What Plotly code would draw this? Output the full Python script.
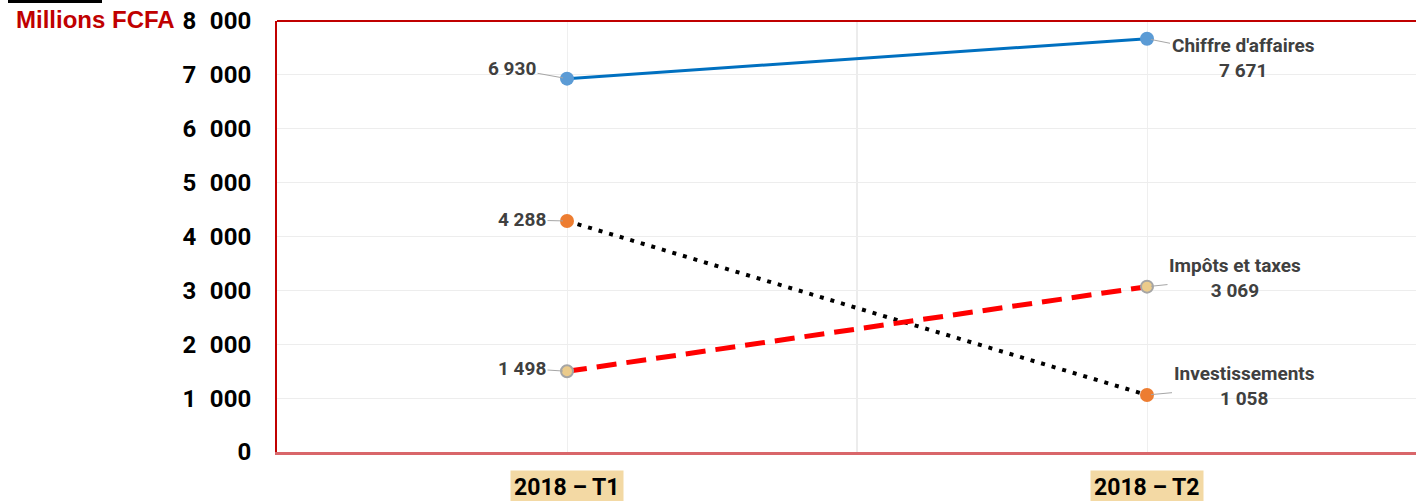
import plotly.graph_objects as go

categories = ["2018 – T1", "2018 – T2"]
ca_values = [6930, 7671]
impots_values = [1498, 3069]
invest_values = [4288, 1058]
series_names = ["Chiffre d'affaires", "Impôts et taxes", "Investissements"]
y_ticks = [0, 1000, 2000, 3000, 4000, 5000, 6000, 7000, 8000]
y_ticktext = ["0", "1\u2007000", "2\u2007000", "3\u2007000", "4\u2007000",
              "5\u2007000", "6\u2007000", "7\u2007000", "8\u2007000"]


def fmt(v):
    return f"{v:,}".replace(",", " ")


NARROW = "Roboto"
W, H = 1416, 501
L, T, B = 277, 21, 49
PW, PH = W - L, H - T - B

fig = go.Figure()

fig.add_trace(go.Scatter(
    x=categories, y=ca_values, name=series_names[0], mode="lines+markers",
    line=dict(color="#0070C0", width=3),
    marker=dict(color="#5B9BD5", size=14, line=dict(width=0)),
))
fig.add_trace(go.Scatter(
    x=categories, y=invest_values, name=series_names[2], mode="lines+markers",
    line=dict(color="#000000", width=4, dash="4px,7px"),
    marker=dict(color="#ED7D31", size=14, line=dict(width=0)),
))
fig.add_trace(go.Scatter(
    x=categories, y=impots_values, name=series_names[1], mode="lines+markers",
    line=dict(color="#FF0000", width=5, dash="20px,10px"),
    marker=dict(color="#EBCB8B", size=12, line=dict(color="#A5A5A5", width=2)),
))

ann = []
label_font = dict(family=NARROW, size=19, color="#404040", weight="bold")
# left labels (T1)
left_offsets = [(-55, -10), (-45, -3), (-45, -1)]
for vals, (ax, ay) in zip([ca_values, impots_values, invest_values], left_offsets):
    ann.append(dict(x=categories[0], y=vals[0], xref="x", yref="y",
                    text=fmt(vals[0]), font=label_font,
                    showarrow=True, arrowhead=0, arrowwidth=1, arrowcolor="#A6A6A6",
                    ax=ax, ay=ay, standoff=4))
# right labels (T2)
right_offsets = [(96, 19), (88, -9), (97, -9)]
for name, vals, (ax, ay) in zip(series_names, [ca_values, impots_values, invest_values], right_offsets):
    ann.append(dict(x=categories[1], y=vals[1], xref="x", yref="y",
                    text=name + "<br>" + fmt(vals[1]), font=label_font,
                    align="center", showarrow=True, arrowhead=0, arrowwidth=1,
                    arrowcolor="#A6A6A6", ax=ax, ay=ay, standoff=4))
# category labels
for c in categories:
    ann.append(dict(x=c, y=0, xref="x", yref="paper", yanchor="top", yshift=-18,
                    text=c, showarrow=False,
                    font=dict(family=NARROW, size=23, color="#000000", weight="bold"),
                    bgcolor="#F3D9A4", borderpad=3))
# unit label
ann.append(dict(x=(14 - L) / PW, y=1 + 2 / PH, xref="paper", yref="paper",
                xanchor="left", yanchor="middle", text="<b>Millions FCFA</b>",
                showarrow=False,
                font=dict(family="Liberation Sans", size=24, color="#C00000")))

fig.update_layout(
    width=W, height=H,
    margin=dict(l=L, r=0, t=T, b=B, autoexpand=False),
    paper_bgcolor="white", plot_bgcolor="white",
    showlegend=False,
    annotations=ann,
)

fig.update_xaxes(
    type="category", range=[-0.5, 1.4638],
    showgrid=True, gridcolor="#EFEFEF", gridwidth=1,
    showticklabels=False, ticks="",
    showline=True, linecolor="#D9666A", linewidth=3,
    zeroline=False, automargin=False,
)
fig.update_yaxes(
    range=[0, 8000], tickvals=y_ticks, ticktext=y_ticktext,
    tickfont=dict(family=NARROW, size=24, color="#000000", weight="bold"),
    showgrid=True, gridcolor="#EDEDED", gridwidth=1,
    showline=True, linecolor="#C00000", linewidth=2,
    ticks="outside", ticklen=0, ticklabelstandoff=19,
    zeroline=False, automargin=False,
)
fig.add_shape(type="line", xref="paper", yref="paper", x0=0, x1=1, y0=1, y1=1,
              line=dict(color="#C00000", width=2))
fig.add_shape(type="line", xref="x", yref="paper", x0=0.5, x1=0.5, y0=0, y1=1,
              line=dict(color="#D9D9D9", width=1), layer="below")
fig.add_shape(type="rect", xref="paper", yref="paper",
              x0=(8 - L) / PW, x1=(102 - L) / PW,
              y0=1 + 18 / PH, y1=1 + 21 / PH,
              line=dict(width=0), fillcolor="#000000")

fig.write_html("out.html", config={"displayModeBar": False},
               post_script="document.body.style.margin='0';document.body.style.overflow='hidden';")
